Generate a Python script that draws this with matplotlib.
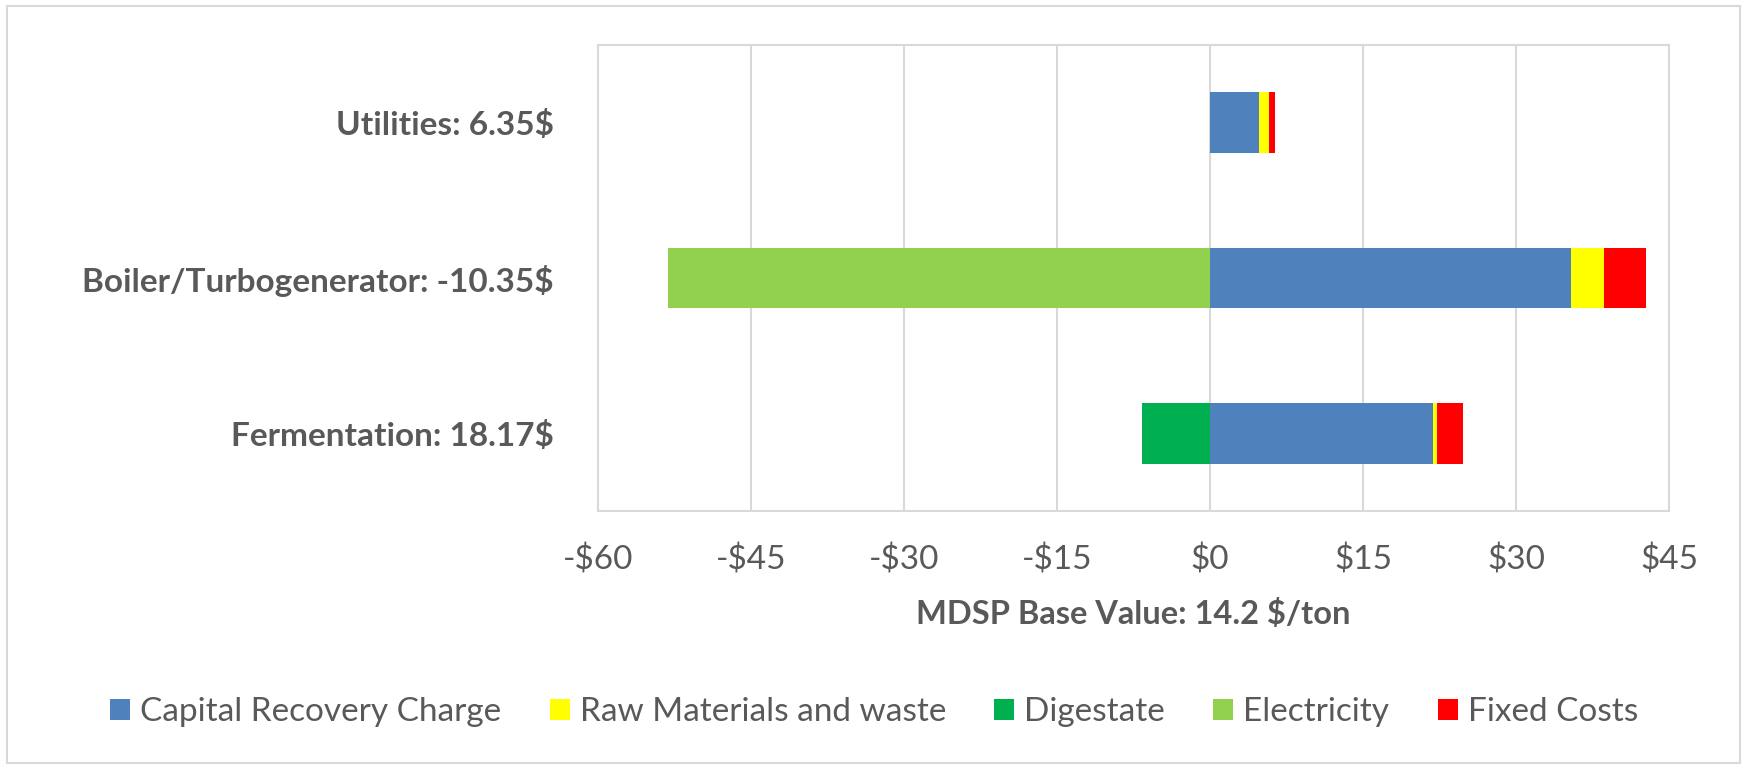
import matplotlib
matplotlib.use("Agg")
import matplotlib.pyplot as plt
from matplotlib.patches import Rectangle, Patch
from matplotlib.ticker import FuncFormatter

# Cost breakdown per process area ($/ton), bottom-to-top order
categories = ["Fermentation: 18.17$", "Boiler/Turbogenerator: -10.35$", "Utilities: 6.35$"]
series_names = ["Capital Recovery Charge", "Raw Materials and waste", "Digestate",
                "Electricity", "Fixed Costs"]
capital_recovery = [21.9, 35.4, 4.8]
raw_materials = [0.4, 3.25, 0.95]
digestate = [-6.68, 0.0, 0.0]
electricity = [0.0, -53.1, 0.0]
fixed_costs = [2.55, 4.1, 0.6]
x_ticks = [-60, -45, -30, -15, 0, 15, 30, 45]
x_label = "MDSP Base Value: 14.2 $/ton"

colors = {
    "Capital Recovery Charge": "#4F81BD",
    "Raw Materials and waste": "#FFFF00",
    "Digestate": "#00B050",
    "Electricity": "#92D050",
    "Fixed Costs": "#FF0000",
}
text_color = "#595959"
grid_color = "#D9D9D9"
font = "Lato"

W, H = 1747, 769
fig = plt.figure(figsize=(W / 100, H / 100), dpi=100)
ax = fig.add_axes([598 / W, 1 - 511 / H, (1669 - 598) / W, (511 - 45) / H])

y = list(range(len(categories)))
bar_h = 0.39

# positive stack from zero to the right
left = [0.0] * len(y)
for name, vals in [("Capital Recovery Charge", capital_recovery),
                   ("Raw Materials and waste", raw_materials),
                   ("Fixed Costs", fixed_costs)]:
    ax.barh(y, vals, left=left, height=bar_h, color=colors[name], zorder=3)
    left = [l + v for l, v in zip(left, vals)]

# negative stack from zero to the left
left = [0.0] * len(y)
for name, vals in [("Digestate", digestate), ("Electricity", electricity)]:
    ax.barh(y, vals, left=left, height=bar_h, color=colors[name], zorder=3)
    left = [l + v for l, v in zip(left, vals)]

ax.set_xlim(x_ticks[0], x_ticks[-1])
ax.set_ylim(-0.5, len(categories) - 0.5)
ax.set_xticks(x_ticks)
ax.xaxis.set_major_formatter(FuncFormatter(lambda v, p: f"-${abs(int(v))}" if v < 0 else f"${int(v)}"))
ax.set_yticks(y)
ax.set_yticklabels(categories)
ax.grid(axis="x", color=grid_color, linewidth=1.5, zorder=0)
ax.tick_params(axis="both", length=0)
ax.tick_params(axis="x", pad=24, labelsize=24, labelcolor=text_color)
ax.tick_params(axis="y", pad=32, labelsize=24, labelcolor=text_color)
for lbl in ax.get_xticklabels():
    lbl.set_fontfamily(font)
for lbl in ax.get_yticklabels():
    lbl.set_fontfamily(font)
    lbl.set_fontweight("bold")
for sp in ax.spines.values():
    sp.set_color(grid_color)
    sp.set_linewidth(1.5)

fig.text(1133 / W, 1 - 614 / H, x_label, ha="center", va="center",
         fontsize=23.5, fontweight="bold", color=text_color, fontfamily=font)

handles = [Patch(facecolor=colors[n], edgecolor="none") for n in series_names]
fig.legend(handles, series_names, loc="center", bbox_to_anchor=(874 / W, 1 - 712 / H),
           ncol=5, frameon=False, handlelength=0.6, handleheight=0.6,
           handletextpad=0.3, columnspacing=1.45, labelcolor=text_color,
           prop={"family": font, "size": 24})

# light outer frame round the chart
fig.add_artist(Rectangle((7 / W, 6 / H), (1740 - 7) / W, (763 - 6) / H,
                         transform=fig.transFigure, fill=False,
                         edgecolor=grid_color, linewidth=1.5))

fig.savefig("out.png", dpi=100, facecolor="white")
